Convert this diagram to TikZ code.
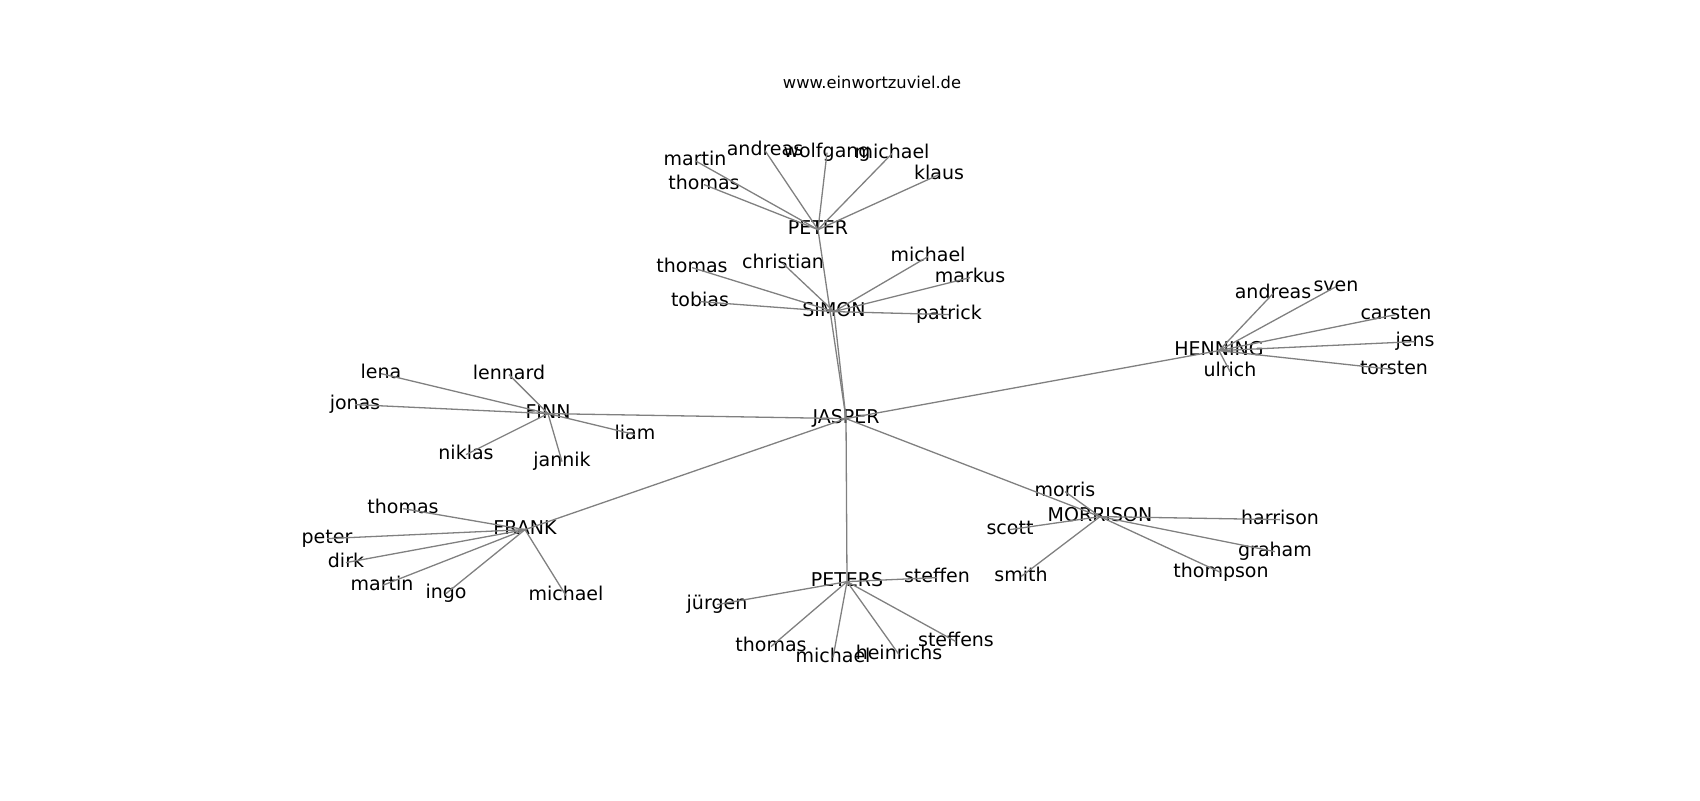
\documentclass[tikz,border=0pt]{standalone}
\usepackage{fontspec}
\setmainfont{DejaVu Sans}
\definecolor{edgegray}{RGB}{128,128,128}
\begin{document}
\begin{tikzpicture}[x=0.5pt,y=-0.5pt,
  lbl/.style={inner sep=0pt,outer sep=0pt,text height=0.76em,text depth=0.24em,anchor=center,yshift=-0.8pt,font=\fontsize{9.5pt}{11pt}\selectfont},
  ttl/.style={inner sep=0pt,outer sep=0pt,text height=0.76em,text depth=0.24em,anchor=center,yshift=-0.6pt,font=\fontsize{8.15pt}{10pt}\selectfont},
  edge/.style={draw=edgegray,line width=0.65pt}]
\useasboundingbox (0,0) rectangle (1700,800);
\node[ttl] (title) at (872,82) {www.einwortzuviel.de};
% hubs
\node[lbl] (JASPER) at (846,417) {JASPER};
\node[lbl] (PETER) at (818,228) {PETER};
\node[lbl] (SIMON) at (834,310) {SIMON};
\node[lbl] (FINN) at (548,412) {FINN};
\node[lbl] (FRANK) at (525,528) {FRANK};
\node[lbl] (PETERS) at (847,580) {PETERS};
\node[lbl] (MORRISON) at (1100,515) {MORRISON};
\node[lbl] (HENNING) at (1219,349) {HENNING};
% PETER
\node[lbl] (pmartin) at (695,159) {martin};
\node[lbl] (pandreas) at (765,149) {andreas};
\node[lbl] (pwolfgang) at (827,151) {wolfgang};
\node[lbl] (pmichael) at (892,152) {michael};
\node[lbl] (pklaus) at (939,173) {klaus};
\node[lbl] (pthomas) at (704,183) {thomas};
% SIMON
\node[lbl] (sthomas) at (692,266) {thomas};
\node[lbl] (schristian) at (783,262) {christian};
\node[lbl] (stobias) at (700,300) {tobias};
\node[lbl] (smichael) at (928,255) {michael};
\node[lbl] (smarkus) at (970,276) {markus};
\node[lbl] (spatrick) at (949,313) {patrick};
% FINN
\node[lbl] (flena) at (381,372) {lena};
\node[lbl] (flennard) at (509,373) {lennard};
\node[lbl] (fjonas) at (355,403) {jonas};
\node[lbl] (fliam) at (635,433) {liam};
\node[lbl] (fniklas) at (466,453) {niklas};
\node[lbl] (fjannik) at (562,460) {jannik};
% FRANK
\node[lbl] (rthomas) at (403,507) {thomas};
\node[lbl] (rpeter) at (327,537) {peter};
\node[lbl] (rdirk) at (346,561) {dirk};
\node[lbl] (rmartin) at (382,584) {martin};
\node[lbl] (ringo) at (446,592) {ingo};
\node[lbl] (rmichael) at (566,594) {michael};
% PETERS
\node[lbl] (qsteffen) at (937,576) {steffen};
\node[lbl] (qjuergen) at (717,603) {jürgen};
\node[lbl] (qthomas) at (771,645) {thomas};
\node[lbl] (qmichael) at (833,656) {michael};
\node[lbl] (qheinrichs) at (899,653) {heinrichs};
\node[lbl] (qsteffens) at (956,640) {steffens};
% MORRISON
\node[lbl] (mmorris) at (1065,490) {morris};
\node[lbl] (mscott) at (1010,528) {scott};
\node[lbl] (msmith) at (1021,575) {smith};
\node[lbl] (mharrison) at (1280,518) {harrison};
\node[lbl] (mgraham) at (1275,550) {graham};
\node[lbl] (mthompson) at (1221,571) {thompson};
% HENNING
\node[lbl] (handreas) at (1273,292) {andreas};
\node[lbl] (hsven) at (1336,285) {sven};
\node[lbl] (hcarsten) at (1396,313) {carsten};
\node[lbl] (hjens) at (1415,340) {jens};
\node[lbl] (htorsten) at (1394,368) {torsten};
\node[lbl] (hulrich) at (1230,370) {ulrich};
% edges
\foreach \h in {PETER,SIMON,FINN,FRANK,PETERS,MORRISON,HENNING}
  \draw[edge] (JASPER.center) -- (\h.center);
\foreach \l in {pmartin,pandreas,pwolfgang,pmichael,pklaus,pthomas}
  \draw[edge] (PETER.center) -- (\l.center);
\foreach \l in {sthomas,schristian,stobias,smichael,smarkus,spatrick}
  \draw[edge] (SIMON.center) -- (\l.center);
\foreach \l in {flena,flennard,fjonas,fliam,fniklas,fjannik}
  \draw[edge] (FINN.center) -- (\l.center);
\foreach \l in {rthomas,rpeter,rdirk,rmartin,ringo,rmichael}
  \draw[edge] (FRANK.center) -- (\l.center);
\foreach \l in {qsteffen,qjuergen,qthomas,qmichael,qheinrichs,qsteffens}
  \draw[edge] (PETERS.center) -- (\l.center);
\foreach \l in {mmorris,mscott,msmith,mharrison,mgraham,mthompson}
  \draw[edge] (MORRISON.center) -- (\l.center);
\foreach \l in {handreas,hsven,hcarsten,hjens,htorsten,hulrich}
  \draw[edge] (HENNING.center) -- (\l.center);
\end{tikzpicture}
\end{document}
